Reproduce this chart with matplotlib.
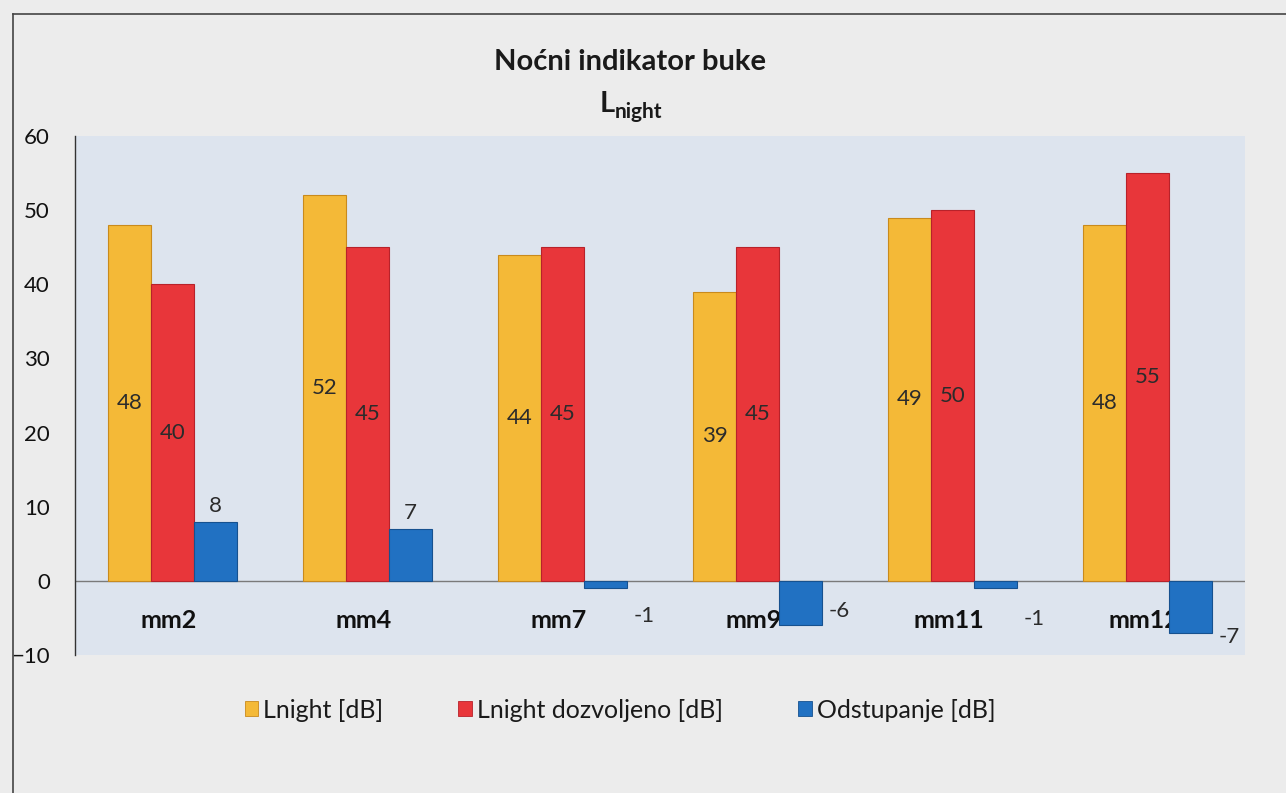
import numpy as np
import matplotlib
matplotlib.use("Agg")
import matplotlib.pyplot as plt
from matplotlib.lines import Line2D
from matplotlib.patches import Patch

plt.rcParams['font.family'] = ['Lato', 'DejaVu Sans']

# data
sites = ["mm2", "mm4", "mm7", "mm9", "mm11", "mm12"]
lnight = [48, 52, 44, 39, 49, 48]
lnight_allowed = [40, 45, 45, 45, 50, 55]
deviation = [8, 7, -1, -6, -1, -7]
series_names = ["Lnight [dB]", "Lnight dozvoljeno [dB]", "Odstupanje [dB]"]
yticks = [-10, 0, 10, 20, 30, 40, 50, 60]

COLORS = ["#f4b937", "#e8363a", "#2171c2"]
EDGES = ["#c98a1c", "#b8222a", "#16518f"]
PAPER = "#ececec"
PLOT_BG = "#dde4ee"
TXT = "#2b2b2b"
# vertical nudge (points) of the labels on the negative deviation bars
NEG_DY = {2: -20, 3: 10, 4: -22, 5: -3}

fig = plt.figure(figsize=(12.86, 7.93), dpi=100, facecolor=PAPER)
ax = fig.add_axes([75/1286, 138/793, 1170/1286, 519/793])
ax.set_facecolor(PLOT_BG)

x = np.arange(len(sites))
w = 0.22
data = [lnight, lnight_allowed, deviation]
bars = []
for i, vals in enumerate(data):
    b = ax.bar(x + (i - 1)*w, vals, w, color=COLORS[i], edgecolor=EDGES[i],
               linewidth=0.8, zorder=3)
    bars.append(b)

# values centred in the two level bars
for i in range(2):
    for rect, v in zip(bars[i], data[i]):
        ax.text(rect.get_x() + rect.get_width()/2, v/2, str(v), ha='center', va='center',
                fontsize=16, color=TXT, zorder=5)

# deviation labels: above positive bars, right of negative ones
for j, (rect, v) in enumerate(zip(bars[2], deviation)):
    if v >= 0:
        ax.annotate(str(v), (rect.get_x() + rect.get_width()/2, v), xytext=(0, 4),
                    textcoords='offset points', ha='center', va='bottom', fontsize=16,
                    color=TXT, zorder=5)
    else:
        ax.annotate(str(v), (rect.get_x() + rect.get_width(), v), xytext=(5, NEG_DY.get(j, 0)),
                    textcoords='offset points', ha='left', va='center', fontsize=16,
                    color=TXT, zorder=5, annotation_clip=False)

# category names sit below the zero line, behind the bars
for xi, s in zip(x, sites):
    ax.text(xi - 0.02, -5.4, s, ha='center', va='center', fontsize=18, fontweight='bold',
            color="#111111", zorder=1)

ax.axhline(0, color="#7a7a7a", lw=1.0, zorder=2)
ax.set_xlim(-0.5, len(sites) - 0.5)
ax.set_ylim(-10, 60)
ax.set_yticks(yticks)
ax.set_xticks([])
ax.tick_params(axis='y', length=0, pad=18, labelsize=16, labelcolor="#111111")
for sp in ['top', 'right', 'bottom']:
    ax.spines[sp].set_visible(False)
ax.spines['left'].set_color("#333333")
ax.spines['left'].set_linewidth(1.0)

# titles (pixel positions)
fig.text(630, 793 - 62, "Noćni indikator buke", transform=None, ha='center', va='center',
         fontsize=21, fontweight='bold', color="#1a1a1a")
fig.text(607, 793 - 104, "L", transform=None, ha='center', va='center',
         fontsize=21, fontweight='bold', color="#1a1a1a")
fig.text(615, 793 - 118, "night", transform=None, ha='left', va='baseline',
         fontsize=15, fontweight='bold', color="#1a1a1a")

# chart frame as on the printout
fig.add_artist(Line2D([13/1286, 1], [1 - 14/793, 1 - 14/793], color="#444444", lw=1.2))
fig.add_artist(Line2D([13/1286, 13/1286], [0, 1 - 14/793], color="#444444", lw=1.2))

handles = [Patch(facecolor=c, edgecolor=e, lw=0.6) for c, e in zip(COLORS, EDGES)]
fig.legend(handles, series_names, loc='center', bbox_to_anchor=(620/1286, 1 - 710/793), ncol=3,
           frameon=False, fontsize=18, handlelength=0.55, handleheight=0.55,
           handletextpad=0.2, columnspacing=3.0, labelcolor="#1a1a1a")

fig.savefig("out.png", dpi=100, facecolor=PAPER)
